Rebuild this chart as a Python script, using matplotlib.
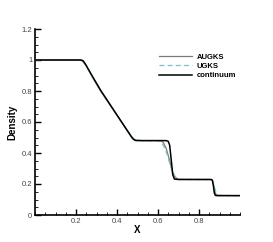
import numpy as np
import matplotlib
matplotlib.use("Agg")
import matplotlib.pyplot as plt
from matplotlib.ticker import MultipleLocator, FuncFormatter

plt.rcParams['font.family'] = ['Liberation Sans', 'DejaVu Sans']

# ---------------- data ----------------
x_cont = [0.0, 0.225, 0.235, 0.245, 0.28, 0.32, 0.36, 0.40, 0.44, 0.46, 0.47, 0.48,
          0.49, 0.50, 0.64, 0.65, 0.657, 0.665, 0.672, 0.68, 0.70, 0.86, 0.865, 0.87,
          0.875, 0.88, 0.89, 1.0]
rho_cont = [1.0, 1.0, 0.995, 0.975, 0.895, 0.805, 0.725, 0.645, 0.565, 0.525, 0.505, 0.488,
            0.481, 0.48, 0.48, 0.475, 0.45, 0.35, 0.26, 0.232, 0.229, 0.229, 0.225, 0.19,
            0.14, 0.126, 0.125, 0.125]

x_augks = [0.0, 0.22, 0.235, 0.25, 0.28, 0.32, 0.36, 0.40, 0.44, 0.46, 0.475, 0.49,
           0.52, 0.61, 0.625, 0.64, 0.655, 0.67, 0.685, 0.70, 0.86, 0.868, 0.875,
           0.882, 0.89, 1.0]
rho_augks = [1.0, 1.0, 0.99, 0.965, 0.89, 0.80, 0.722, 0.643, 0.565, 0.527, 0.498, 0.484,
             0.48, 0.48, 0.47, 0.43, 0.36, 0.28, 0.24, 0.23, 0.229, 0.215, 0.17,
             0.135, 0.126, 0.125]

x_ugks = [0.0, 0.215, 0.232, 0.25, 0.28, 0.32, 0.36, 0.40, 0.44, 0.46, 0.475, 0.49,
          0.52, 0.60, 0.615, 0.63, 0.645, 0.66, 0.675, 0.69, 0.71, 0.86, 0.868,
          0.876, 0.884, 0.892, 1.0]
rho_ugks = [1.0, 1.0, 0.99, 0.962, 0.888, 0.80, 0.72, 0.642, 0.564, 0.528, 0.5, 0.485,
            0.48, 0.479, 0.47, 0.44, 0.39, 0.32, 0.265, 0.238, 0.23, 0.229, 0.218,
            0.175, 0.14, 0.127, 0.125]

x_ticks = [0.2, 0.4, 0.6, 0.8]
y_ticks = [0, 0.2, 0.4, 0.6, 0.8, 1.0, 1.2]

# ---------------- plot ----------------
fig = plt.figure(figsize=(2.73, 2.42), dpi=100)
ax = fig.add_axes([35 / 273, 27 / 242, 205 / 273, 186 / 242])

ax.plot(x_augks, rho_augks, color='#7a7a7a', linewidth=0.9, label='AUGKS', zorder=2)
ax.plot(x_ugks, rho_ugks, color='#79c0c0', linewidth=0.9, linestyle=(0, (4, 2.5)),
        label='UGKS', zorder=3)
ax.plot(x_cont, rho_cont, color='black', linewidth=1.1, label='continuum', zorder=4)

ax.set_xlim(0, 1)
ax.set_ylim(0, 1.2)

ax.set_xticks(x_ticks)
ax.set_yticks(y_ticks)
ax.xaxis.set_minor_locator(MultipleLocator(0.05))
ax.yaxis.set_minor_locator(MultipleLocator(0.05))


def fmt(v, pos=None):
    if np.isclose(v, 0.0):
        return "0"
    return f"{v:.1f}".rstrip('0').rstrip('.')


ax.xaxis.set_major_formatter(FuncFormatter(fmt))
ax.yaxis.set_major_formatter(FuncFormatter(fmt))

for side in ['top', 'right']:
    ax.spines[side].set_visible(False)
for side in ['left', 'bottom']:
    ax.spines[side].set_linewidth(1.2)

ax.tick_params(which='major', direction='in', length=4, width=1.0,
               labelsize=5.5, labelcolor='#444444', pad=2)
ax.tick_params(which='minor', direction='in', length=2, width=0.6)

ax.set_xlabel('X', fontsize=7, fontweight='bold', labelpad=0)
ax.set_ylabel('Density', fontsize=7, fontweight='bold', labelpad=3)

ax.legend(loc='upper left', bbox_to_anchor=(0.57, 0.905), frameon=False,
          handlelength=4.4, handletextpad=0.6, labelspacing=0.25,
          prop={'weight': 'bold', 'size': 5.5})

fig.savefig('out.png', dpi=100)
